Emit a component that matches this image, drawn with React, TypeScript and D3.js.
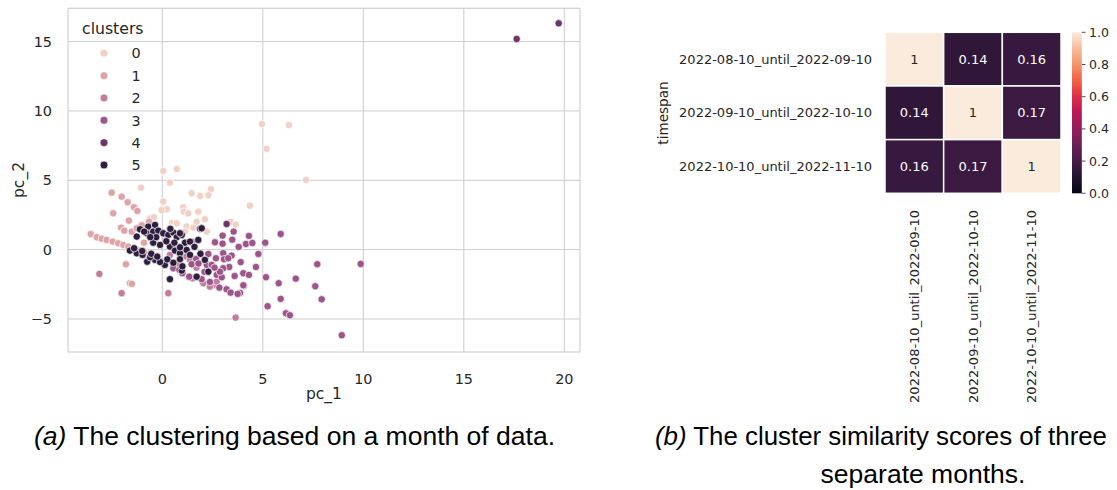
import React from "react";
import * as d3 from "d3";

// ---------- Data: scatter (pc_1, pc_2) per cluster ----------
const CLUSTER_IDS = [0, 1, 2, 3, 4, 5];
const CLUSTER_COLORS = ["#efd1c6", "#dea3a6", "#c07d9d", "#9c5589", "#6c3566", "#2d1e3e"];

const cluster0: [number, number][] = [
  [4.96, 9.05], [6.30, 8.98], [5.19, 7.26], [7.15, 5.03], [0.05, 5.67], [0.72, 5.82],
  [0.38, 4.83], [-1.06, 4.47], [1.46, 4.07], [1.88, 3.87], [2.42, 4.35], [2.29, 3.92],
  [4.36, 3.17], [0.05, 3.46], [0.22, 2.91], [-0.03, 2.86], [1.04, 3.06], [1.08, 2.74],
  [1.79, 2.74], [2.12, 2.19], [1.71, 2.02], [3.40, 2.00], [3.65, 1.80], [-0.61, 2.24],
  [-0.41, 2.34], [0.47, 1.90], [0.72, 1.90], [1.21, 1.66], [1.54, 1.59], [2.21, 1.30],
  [0.38, 1.59], [1.29, 2.62], [1.13, 1.30],
];
const cluster1: [number, number][] = [
  [-2.52, 4.11], [-2.02, 3.82], [-1.72, 3.42], [-1.41, 3.06], [-1.24, 2.79], [-2.44, 2.62],
  [-1.66, 2.09], [-2.05, 1.59], [-1.89, 1.37], [-1.52, 1.30], [-1.02, 1.76], [-0.91, 0.50],
  [-3.56, 1.13], [-3.26, 0.89], [-3.01, 0.79], [-2.77, 0.70], [-2.47, 0.58], [-2.19, 0.46],
  [-1.94, 0.34], [-1.69, 0.22], [-1.44, 0.07], [-1.81, -1.05], [-1.61, -2.42], [-1.51, -2.47],
  [-1.27, 1.54], [-0.66, 2.02], [-1.20, -0.05], [-0.90, -0.15],
];
const cluster2: [number, number][] = [
  [-3.13, -1.75], [-2.02, -3.14], [0.30, -3.14], [3.65, -4.90], [1.21, -0.50], [0.38, -0.38],
  [1.38, -0.74], [1.51, -2.06], [2.04, -2.42], [2.54, -2.55], [2.71, -2.31], [2.37, -2.67],
  [1.51, 0.56], [1.70, -1.30], [0.70, -1.00],
];
const cluster3: [number, number][] = [
  [5.89, 1.13], [4.31, 0.99], [4.16, 0.41], [4.48, 0.48], [5.12, 0.50], [4.78, -0.31],
  [4.66, -1.25], [4.03, -1.70], [4.31, -1.82], [4.06, -2.60], [5.16, -1.99], [5.79, -2.42],
  [6.64, -2.09], [7.71, -1.05], [9.87, -1.03], [7.61, -2.64], [7.93, -3.58], [5.89, -3.55],
  [5.24, -4.08], [6.15, -4.59], [6.35, -4.73], [8.93, -6.17], [3.87, -3.12], [3.55, 1.30],
  [3.48, 0.72], [3.00, 1.01], [2.62, 0.53], [3.00, 0.43], [2.29, -0.31], [3.03, -0.26],
  [3.45, -0.43], [2.67, -0.62], [3.07, -0.69], [3.28, -0.62], [2.21, -1.10], [2.71, -1.82],
  [2.96, -1.99], [3.33, -1.25], [1.68, -0.67], [1.46, -1.05], [2.46, -1.10], [3.03, -1.34],
  [2.87, -1.59], [1.34, -1.95], [1.96, -2.13], [2.37, -2.33], [2.84, -2.74], [3.20, -2.86],
  [3.40, -3.10], [3.75, -3.19], [4.03, -2.57], [0.55, -1.34], [0.85, -1.45],
  [1.80, -1.00], [2.10, -1.60], [2.60, -1.30], [3.60, -1.90], [3.90, -0.90], [1.00, -1.70],
  [3.80, 0.20],
];
const cluster4: [number, number][] = [
  [19.72, 16.32], [17.63, 15.19], [3.20, 1.85], [1.88, 1.51],
];
const cluster5: [number, number][] = [
  [-1.11, 1.47], [-0.70, 1.66], [-0.36, 1.78], [-1.27, 0.94], [-0.78, 1.18], [-0.45, 1.30],
  [-0.20, 1.37], [0.05, 1.18], [0.30, 1.06], [0.55, 1.23], [0.72, 0.89], [0.97, 1.06],
  [1.13, 0.50], [1.38, 0.58], [1.79, 0.70], [-0.45, 0.50], [-0.11, 0.34], [0.38, 0.22],
  [0.63, -0.07], [0.88, -0.26], [1.21, -0.02], [1.38, -0.38], [0.88, -0.69], [2.12, -0.74],
  [2.29, -1.59], [1.71, -1.95], [0.38, -2.13], [0.13, -1.10], [1.96, 1.54], [-1.61, -0.07],
  [-1.27, -0.26], [-0.98, -0.38], [-0.75, -0.87], [-0.36, -0.74], [-0.11, -0.89], [-0.61, -0.55],
  [0.88, 1.18], [0.88, 0.17], [0.97, -1.51],
  [-1.40, 0.10], [-1.00, -0.10], [-0.55, -0.30], [-0.25, -0.50], [0.25, -0.70], [0.55, -0.95],
  [1.00, -1.20], [-0.90, 1.30], [-0.30, 0.90], [0.20, 0.60], [0.60, 0.50], [1.60, 0.20],
  [1.90, -0.30], [0.40, 1.50], [-0.60, 0.90],
];
const CLUSTER_POINTS = [cluster0, cluster1, cluster2, cluster3, cluster4, cluster5];

const X_TICKS = [0, 5, 10, 15, 20];
const Y_TICKS = [-5, 0, 5, 10, 15];

// ---------- Data: heatmap ----------
const TIMESPANS = [
  "2022-08-10_until_2022-09-10",
  "2022-09-10_until_2022-10-10",
  "2022-10-10_until_2022-11-10",
];
const SIMILARITY = [
  [1, 0.14, 0.16],
  [0.14, 1, 0.17],
  [0.16, 0.17, 1],
];
const CBAR_TICKS = [0, 0.2, 0.4, 0.6, 0.8, 1.0];
const ROCKET_STOPS = [0, 0.1, 0.2, 0.3, 0.4, 0.5, 0.6, 0.7, 0.8, 0.9, 1.0];
const ROCKET_COLORS = [
  "#03051a", "#221331", "#451c47", "#6a1f56", "#921c5b", "#b91657",
  "#dd2c45", "#f06043", "#f5936a", "#f6bc9c", "#faebdd",
];

const CAPTION_A = "The clustering based on a month of data.";
const CAPTION_B1 = "The cluster similarity scores of three";
const CAPTION_B2 = "separate months.";

const TXT = "#262626";
const GRID = "#cccccc";
const SANS = "'DejaVu Sans', sans-serif";

export default function App() {
  // scatter scales
  const x = d3.scaleLinear().domain([-4.69, 20.78]).range([68, 580]);
  const y = d3.scaleLinear().domain([-7.38, 17.4]).range([352, 8.3]);

  // heatmap scales
  const hx = d3.scaleBand<number>().domain([0, 1, 2]).range([885, 1061]);
  const hy = d3.scaleBand<number>().domain([0, 1, 2]).range([32.3, 193.3]);
  const rocket = d3.scaleLinear<string>().domain(ROCKET_STOPS).range(ROCKET_COLORS);
  const cb = d3.scaleLinear().domain([0, 1]).range([193.3, 32.3]);

  const legendY = d3.scaleLinear().domain([0, 5]).range([53.3, 165]);

  return (
    <svg width={1117} height={490} style={{ position: "absolute", left: 0, top: 0, background: "#fff" }}>
      {/* ---------- Scatter ---------- */}
      <g>
        {X_TICKS.map((t) => (
          <line key={"gx" + t} x1={x(t)} x2={x(t)} y1={8.3} y2={352} stroke={GRID} strokeWidth={1} />
        ))}
        {Y_TICKS.map((t) => (
          <line key={"gy" + t} x1={68} x2={580} y1={y(t)} y2={y(t)} stroke={GRID} strokeWidth={1} />
        ))}
        <rect x={68} y={8.3} width={512} height={343.7} fill="none" stroke={GRID} strokeWidth={1.1} />
        {X_TICKS.map((t) => (
          <text key={"tx" + t} x={x(t)} y={384} textAnchor="middle" fontFamily={SANS} fontSize={14.4} fill={TXT}>
            {t}
          </text>
        ))}
        {Y_TICKS.map((t) => (
          <text key={"ty" + t} x={52} y={y(t)} dy="0.36em" textAnchor="end" fontFamily={SANS} fontSize={14.4} fill={TXT}>
            {t < 0 ? "\u2212" + Math.abs(t) : t}
          </text>
        ))}
        <text x={324} y={399} textAnchor="middle" fontFamily={SANS} fontSize={15.5} fill={TXT}>pc_1</text>
        <text transform="translate(24,180) rotate(-90)" textAnchor="middle" fontFamily={SANS} fontSize={15.5} fill={TXT}>pc_2</text>

        {CLUSTER_POINTS.map((pts, ci) =>
          pts.map((p, i) => (
            <circle key={ci + "-" + i} cx={x(p[0])} cy={y(p[1])} r={3.7}
              fill={CLUSTER_COLORS[ci]} stroke="#fff" strokeWidth={0.7} />
          ))
        )}

        {/* legend */}
        <text x={82} y={34} fontFamily={SANS} fontSize={15.7} fill={TXT}>clusters</text>
        {CLUSTER_IDS.map((c) => (
          <g key={"lg" + c}>
            <circle cx={104} cy={legendY(c)} r={4} fill={CLUSTER_COLORS[c]} stroke="#fff" strokeWidth={0.7} />
            <text x={131.5} y={legendY(c)} dy="0.36em" fontFamily={SANS} fontSize={14.4} fill={TXT}>{c}</text>
          </g>
        ))}
      </g>

      {/* ---------- Heatmap ---------- */}
      <g>
        {SIMILARITY.map((row, ri) =>
          row.map((v, ci) => (
            <g key={"c" + ri + ci}>
              <rect x={hx(ci)} y={hy(ri)} width={hx.bandwidth()} height={hy.bandwidth()}
                fill={rocket(v)} stroke="#fff" strokeWidth={1.5} />
              <text x={(hx(ci) as number) + hx.bandwidth() / 2} y={(hy(ri) as number) + hy.bandwidth() / 2}
                dy="0.36em" textAnchor="middle" fontFamily={SANS} fontSize={13}
                fill={v > 0.5 ? TXT : "#ffffff"}>
                {d3.format("")(v)}
              </text>
            </g>
          ))
        )}
        {TIMESPANS.map((t, i) => (
          <text key={"yl" + i} x={872} y={(hy(i) as number) + hy.bandwidth() / 2} dy="0.36em"
            textAnchor="end" fontFamily={SANS} fontSize={13} fill={TXT}>{t}</text>
        ))}
        {TIMESPANS.map((t, i) => (
          <text key={"xl" + i}
            transform={`translate(${(hx(i) as number) + hx.bandwidth() / 2 + 4.5},210) rotate(-90)`}
            textAnchor="end" fontFamily={SANS} fontSize={13} fill={TXT}>{t}</text>
        ))}
        <text transform="translate(668,113) rotate(-90)" textAnchor="middle" fontFamily={SANS} fontSize={13.6} fill={TXT}>timespan</text>

        {/* colorbar */}
        <defs>
          <linearGradient id="rocketGrad" x1="0" y1="1" x2="0" y2="0">
            {ROCKET_STOPS.map((s, i) => (
              <stop key={"s" + i} offset={s} stopColor={ROCKET_COLORS[i]} />
            ))}
          </linearGradient>
        </defs>
        <rect x={1072} y={32.3} width={9.8} height={161} fill="url(#rocketGrad)" />
        {CBAR_TICKS.map((t) => (
          <g key={"cb" + t}>
            <line x1={1081.8} x2={1085.5} y1={cb(t)} y2={cb(t)} stroke={TXT} strokeWidth={0.8} />
            <text x={1089} y={cb(t)} dy="0.36em" fontFamily={SANS} fontSize={12.5} fill={TXT}>{d3.format(".1f")(t)}</text>
          </g>
        ))}
      </g>

      {/* ---------- Captions ---------- */}
      <g fontFamily="'Liberation Sans', Arial, sans-serif" fontSize={26.5} fill="#000">
        <text x={34} y={445}>
          <tspan fontStyle="italic">(a)</tspan> {CAPTION_A}
        </text>
        <text x={655} y={445} textLength={452} lengthAdjust="spacingAndGlyphs">
          <tspan fontStyle="italic">(b)</tspan> {CAPTION_B1}
        </text>
        <text x={923} y={483} textAnchor="middle">{CAPTION_B2}</text>
      </g>
    </svg>
  );
}
